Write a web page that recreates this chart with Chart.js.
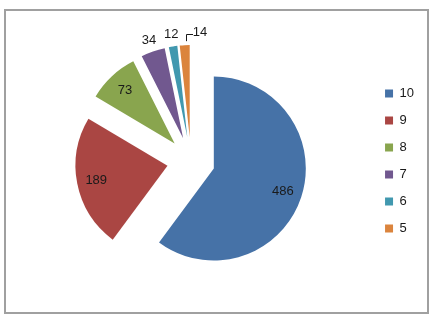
<!DOCTYPE html>
<html>
<head>
<meta charset="utf-8">
<script src="https://cdn.jsdelivr.net/npm/chart.js@4.4.1/dist/chart.umd.min.js"></script>
<style>
html,body{margin:0;padding:0;background:#fff;}
canvas{display:block;}
</style>
</head>
<body>
<canvas id="c" width="433" height="315"></canvas>
<script>
const categories = ['10', '9', '8', '7', '6', '5'];
const values = [486, 189, 73, 34, 12, 14];
const colors = ['#4672A7', '#AA4643', '#89A54E', '#71588F', '#4198AF', '#DB843D'];

const EXPLODE = 24;

const frame = {
  id: 'frame',
  beforeDraw(chart) {
    const ctx = chart.ctx;
    ctx.save();
    ctx.fillStyle = '#fff';
    ctx.fillRect(0, 0, chart.width, chart.height);
    ctx.strokeStyle = '#a0a0a0';
    ctx.lineWidth = 2;
    ctx.strokeRect(5, 10, 423, 303);
    ctx.restore();
  }
};

// Explode every slice outward along its mid-angle (pure translation)
const explode = {
  id: 'explode',
  beforeDatasetsDraw(chart) {
    const meta = chart.getDatasetMeta(0);
    meta.data.forEach(arc => {
      if (arc._exploded) return;
      arc.draw = function (ctx, area) {
        const mid = (this.startAngle + this.endAngle) / 2;
        ctx.save();
        ctx.translate(Math.cos(mid) * EXPLODE, Math.sin(mid) * EXPLODE);
        Chart.ArcElement.prototype.draw.call(this, ctx, area);
        ctx.restore();
      };
      arc._exploded = true;
    });
  }
};

const labels = {
  id: 'sliceLabels',
  afterDatasetsDraw(chart) {
    const ctx = chart.ctx;
    const meta = chart.getDatasetMeta(0);
    ctx.save();
    ctx.font = '13px "Liberation Sans", Arial, sans-serif';
    ctx.fillStyle = '#1a1a1a';
    ctx.textBaseline = 'middle';
    meta.data.forEach((arc, i) => {
      const mid = (arc.startAngle + arc.endAngle) / 2;
      const cx = arc.x + Math.cos(mid) * EXPLODE;
      const cy = arc.y + Math.sin(mid) * EXPLODE;
      const r = arc.outerRadius;
      const v = String(values[i]);
      ctx.textAlign = 'center';
      if (values[i] > 50) {
        ctx.fillText(v, cx + Math.cos(mid) * r * 0.79, cy + Math.sin(mid) * r * 0.79);
      } else if (i < values.length - 1) {
        ctx.fillText(v, cx + Math.cos(mid) * (r + 12), cy + Math.sin(mid) * (r + 12));
      } else {
        const tx = cx + Math.cos(mid) * r;
        const ty = cy + Math.sin(mid) * r;
        ctx.strokeStyle = '#1a1a1a';
        ctx.lineWidth = 1;
        ctx.beginPath();
        ctx.moveTo(Math.round(tx) + 1.5, ty - 4);
        ctx.lineTo(Math.round(tx) + 1.5, Math.round(ty) - 10.5);
        ctx.lineTo(Math.round(tx) + 8, Math.round(ty) - 10.5);
        ctx.stroke();
        ctx.textAlign = 'left';
        ctx.fillText(v, tx + 8, ty - 13);
      }
    });
    ctx.restore();
  }
};

new Chart(document.getElementById('c'), {
  type: 'pie',
  data: {
    labels: categories,
    datasets: [{
      data: values,
      backgroundColor: colors,
      borderWidth: 0
    }]
  },
  options: {
    responsive: false,
    animation: false,
    radius: 92,
    layout: { padding: { left: 11, right: 9, top: 7, bottom: 0 } },
    plugins: {
      legend: {
        position: 'right',
        labels: {
          boxWidth: 8,
          boxHeight: 8,
          padding: 14,
          color: '#1a1a1a',
          font: { size: 13, family: '"Liberation Sans", Arial, sans-serif' }
        }
      },
      tooltip: { enabled: false }
    }
  },
  plugins: [frame, explode, labels]
});
</script>
</body>
</html>
